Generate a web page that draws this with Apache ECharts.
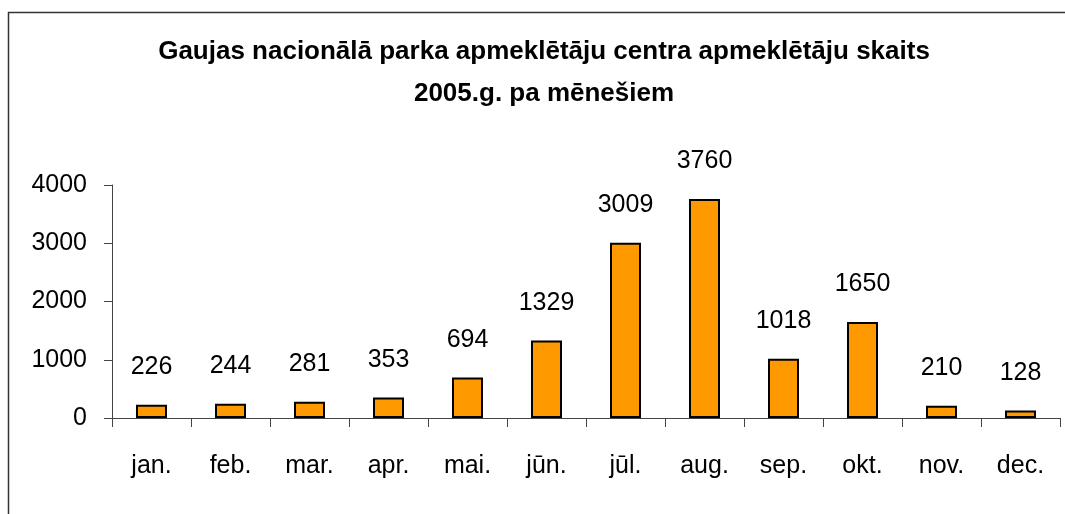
<!DOCTYPE html>
<html>
<head>
<meta charset="utf-8">
<script src="https://cdn.jsdelivr.net/npm/echarts@6/dist/echarts.min.js"></script>
<style>
html,body{margin:0;padding:0;background:#fff;}
#chart{width:1065px;height:514px;}
</style>
</head>
<body>
<div id="chart"></div>
<script>
const titleLines = ['Gaujas nacionālā parka apmeklētāju centra apmeklētāju skaits', '2005.g. pa mēnešiem'];
const categories = ['jan.', 'feb.', 'mar.', 'apr.', 'mai.', 'jūn.', 'jūl.', 'aug.', 'sep.', 'okt.', 'nov.', 'dec.'];
const visitors = [226, 244, 281, 353, 694, 1329, 3009, 3760, 1018, 1650, 210, 128];
const yTicks = [0, 1000, 2000, 3000, 4000];

const font = '"Liberation Sans", Arial, sans-serif';
const chart = echarts.init(document.getElementById('chart'), null, {renderer: 'canvas'});
chart.setOption({
  animation: false,
  backgroundColor: '#ffffff',
  title: {
    text: titleLines.join('\n'),
    left: 544,
    textAlign: 'center',
    top: 31,
    padding: 0,
    textStyle: {
      fontFamily: font,
      fontWeight: 'bold',
      fontSize: 26,
      lineHeight: 42,
      color: '#000'
    }
  },
  graphic: [{
    type: 'rect',
    shape: {x: 8.5, y: 12.5, width: 1200, height: 1000},
    style: {fill: 'none', stroke: '#333', lineWidth: 1.5},
    silent: true
  }],
  grid: {left: 112, right: 5, top: 185, bottom: 96},
  xAxis: {
    type: 'category',
    data: categories,
    axisLine: {lineStyle: {color: '#444', width: 1}},
    axisTick: {show: true, length: 9, lineStyle: {color: '#444'}},
    axisLabel: {margin: 36, fontFamily: font, fontSize: 25, color: '#000'}
  },
  yAxis: {
    type: 'value',
    min: yTicks[0],
    max: yTicks[yTicks.length - 1],
    interval: yTicks[1] - yTicks[0],
    splitLine: {show: false},
    axisLine: {show: true, lineStyle: {color: '#444', width: 1}},
    axisTick: {show: true, length: 8, lineStyle: {color: '#444'}},
    axisLabel: {margin: 25, fontFamily: font, fontSize: 25, color: '#000', formatter: v => String(v)}
  },
  series: [{
    type: 'bar',
    data: visitors,
    barWidth: 31,
    itemStyle: {color: '#FF9900', borderColor: '#000', borderWidth: 2},
    label: {
      show: true,
      position: 'top',
      distance: 25,
      fontFamily: font,
      fontSize: 25,
      color: '#000'
    }
  }]
});
</script>
</body>
</html>
